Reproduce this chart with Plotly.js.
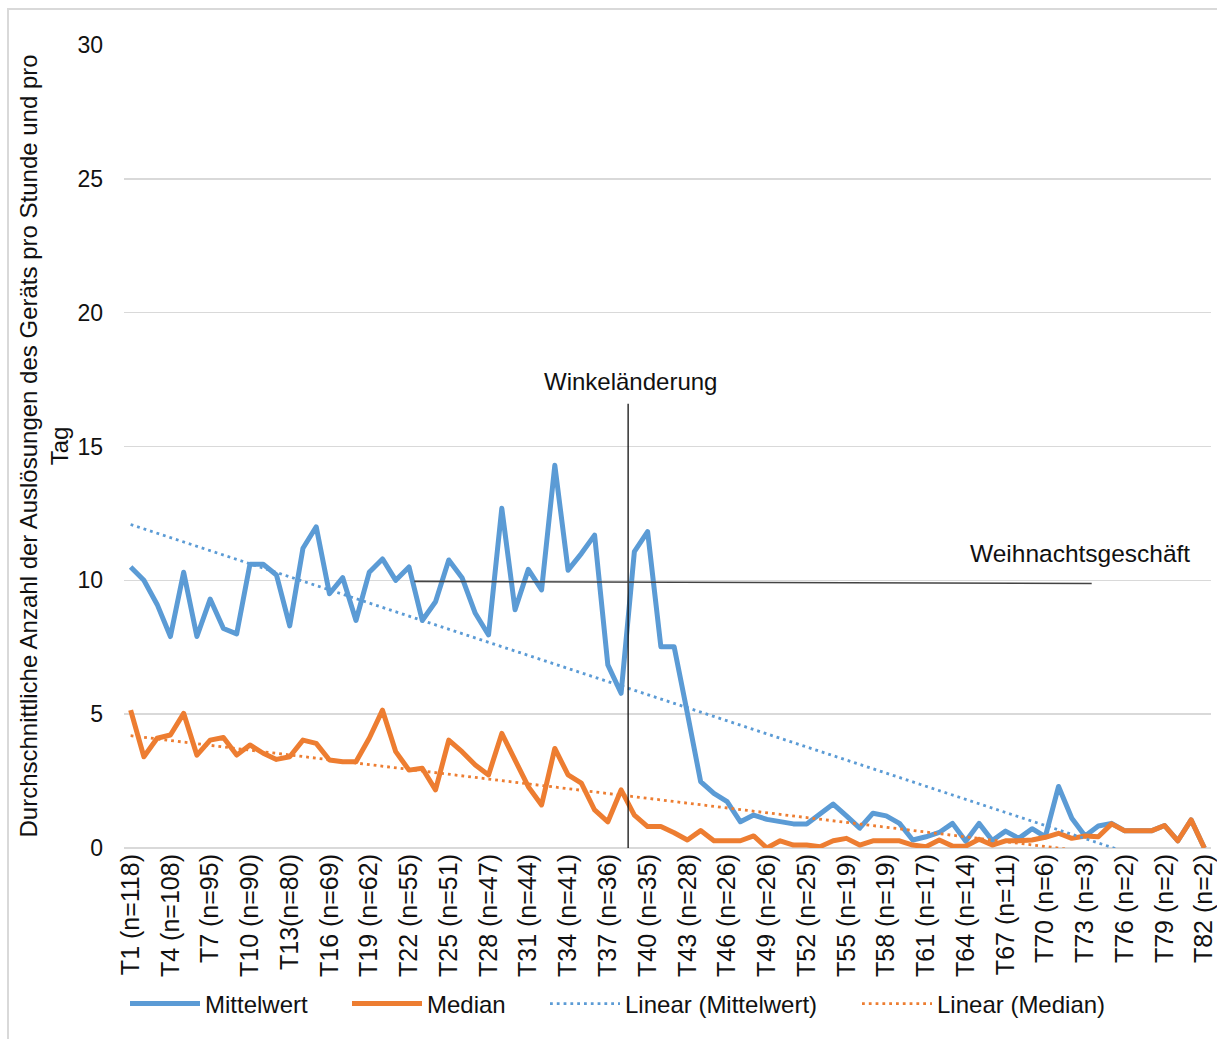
<!DOCTYPE html>
<html>
<head>
<meta charset="utf-8">
<script src="https://cdn.plot.ly/plotly-3.0.1.min.js"></script>
<style>
  html, body { margin: 0; padding: 0; background: #ffffff; overflow: hidden; }
  #wrap { position: relative; width: 1217px; height: 1039px; overflow: hidden; }
  #frame { position: absolute; left: 7px; top: 8px; width: 1300px; height: 1100px;
           border-left: 2px solid #d9d9d9; border-top: 2px solid #d9d9d9; box-sizing: border-box; }
  #chart { position: absolute; left: 0; top: 0; width: 1217px; height: 1039px; }
  #chart path.js-line { stroke-linejoin: round; }
</style>
</head>
<body>
<div id="wrap"><div id="frame"></div><div id="chart"></div></div>
<script>
// ---- data ----
const categories = ["T1","T2","T3","T4","T5","T6","T7","T8","T9","T10",
  "T11","T12","T13","T14","T15","T16","T17","T18","T19","T20",
  "T21","T22","T23","T24","T25","T26","T27","T28","T29","T30",
  "T31","T32","T33","T34","T35","T36","T37","T38","T39","T40",
  "T41","T42","T43","T44","T45","T46","T47","T48","T49","T50",
  "T51","T52","T53","T54","T55","T56","T57","T58","T59","T60",
  "T61","T62","T63","T64","T65","T66","T67","T68","T69","T70",
  "T71","T72","T73","T74","T75","T76","T77","T78","T79","T80",
  "T81","T82"];

const mittelwert = [10.5,10.0,9.1,7.9,10.3,7.9,9.3,8.2,8.0,10.6,
  10.6,10.2,8.3,11.2,12.0,9.5,10.1,8.5,10.3,10.8,
  10.0,10.5,8.5,9.2,10.76,10.1,8.77,7.96,12.69,8.9,
  10.41,9.64,14.3,10.38,11.0,11.69,6.84,5.78,11.07,11.82,
  7.52,7.52,5.03,2.48,2.04,1.73,0.98,1.23,1.07,0.98,
  0.9,0.9,1.3,1.64,1.2,0.74,1.3,1.2,0.92,0.3,
  0.42,0.58,0.92,0.25,0.92,0.28,0.63,0.36,0.72,0.42,
  2.3,1.11,0.45,0.82,0.92,0.64,0.64,0.64,0.84,0.27,
  1.05,0.0];

const median = [5.15,3.41,4.1,4.22,5.03,3.47,4.03,4.13,3.47,3.85,
  3.54,3.31,3.41,4.03,3.91,3.29,3.22,3.22,4.1,5.15,
  3.6,2.91,2.98,2.17,4.03,3.6,3.1,2.73,4.28,3.29,
  2.29,1.61,3.72,2.73,2.42,1.42,0.98,2.17,1.23,0.8,
  0.8,0.57,0.3,0.65,0.27,0.27,0.27,0.45,0.0,0.27,
  0.11,0.11,0.05,0.27,0.36,0.11,0.27,0.27,0.27,0.11,
  0.05,0.3,0.07,0.07,0.33,0.11,0.27,0.27,0.3,0.4,
  0.55,0.36,0.45,0.42,0.9,0.64,0.64,0.64,0.84,0.27,
  1.05,0.0];

const tickCategories = ["T1","T4","T7","T10","T13","T16","T19","T22","T25","T28",
  "T31","T34","T37","T40","T43","T46","T49","T52","T55","T58",
  "T61","T64","T67","T70","T73","T76","T79","T82"];
const tickLabels = ["T1 (n=118)","T4 (n=108)","T7 (n=95)","T10 (n=90)","T13(n=80)",
  "T16 (n=69)","T19 (n=62)","T22 (n=55)","T25 (n=51)","T28 (n=47)",
  "T31 (n=44)","T34 (n=41)","T37 (n=36)","T40 (n=35)","T43 (n=28)",
  "T46 (n=26)","T49 (n=26)","T52 (n=25)","T55 (n=19)","T58 (n=19)",
  "T61 (n=17)","T64 (n=14)","T67 (n=11)","T70 (n=6)","T73 (n=3)",
  "T76 (n=2)","T79 (n=2)","T82 (n=2)"];

const seriesNames = ["Mittelwert","Median","Linear (Mittelwert)","Linear (Median)"];
const yTitle = "Durchschnittliche Anzahl der Auslösungen des Geräts pro Stunde und pro<br>Tag";
const noteAngle = "Winkeländerung";
const noteXmas = "Weihnachtsgeschäft";

// least-squares linear trend (as a spreadsheet trendline does)
function linearTrend(ys) {
  const n = ys.length;
  let sx = 0, sy = 0, sxx = 0, sxy = 0;
  for (let i = 0; i < n; i++) { const x = i + 1; sx += x; sy += ys[i]; sxx += x * x; sxy += x * ys[i]; }
  const b = (n * sxy - sx * sy) / (n * sxx - sx * sx);
  const a = (sy - b * sx) / n;
  return ys.map((_, i) => a + b * (i + 1));
}

const BLUE = "#5B9BD5", ORANGE = "#ED7D31";
const FONT = "Liberation Sans, Arial, sans-serif";

const L = 124, R = 6, T = 45, B = 191;
const W = 1217, H = 1039;
const pw = W - L - R, ph = H - T - B;
const px = v => (v - L) / pw;          // pixel -> paper x
const py = v => (H - B - v) / ph;      // pixel -> paper y

const traces = [
  { x: categories, y: mittelwert, name: seriesNames[0], type: "scatter", mode: "lines",
    line: { color: BLUE, width: 5 }, legend: "legend" },
  { x: categories, y: median, name: seriesNames[1], type: "scatter", mode: "lines",
    line: { color: ORANGE, width: 5 }, legend: "legend2" },
  { x: categories, y: linearTrend(mittelwert), name: seriesNames[2], type: "scatter", mode: "lines",
    line: { color: BLUE, width: 2.8, dash: "2.8px,4px" }, legend: "legend3" },
  { x: categories, y: linearTrend(median), name: seriesNames[3], type: "scatter", mode: "lines",
    line: { color: ORANGE, width: 2.8, dash: "2.8px,4px" }, legend: "legend4" }
];

function leg(xPix) {
  return { orientation: "h", x: px(xPix), xanchor: "left", y: py(1004), yanchor: "middle",
    font: { family: FONT, size: 24, color: "#111" }, itemwidth: 70,
    bgcolor: "rgba(0,0,0,0)", borderwidth: 0, traceorder: "normal" };
}

const layout = {
  width: W, height: H,
  margin: { l: L, r: R, t: T, b: B },
  paper_bgcolor: "rgba(0,0,0,0)", plot_bgcolor: "rgba(0,0,0,0)",
  font: { family: FONT, color: "#111" },
  showlegend: true,
  legend: leg(125), legend2: leg(347), legend3: leg(545), legend4: leg(857),
  xaxis: {
    type: "category", categoryorder: "array", categoryarray: categories,
    range: [-0.5, 81.5], tickmode: "array", tickvals: tickCategories, ticktext: tickLabels,
    tickangle: -90, tickfont: { family: FONT, size: 25, color: "#111" },
    showgrid: false, showline: false, zeroline: false, ticks: "", ticklen: 0,
    automargin: false
  },
  yaxis: {
    range: [0, 30], tickvals: [0, 5, 10, 15, 20, 25, 30],
    tickfont: { family: FONT, size: 23, color: "#111" },
    showgrid: true, gridcolor: "#d9d9d9", gridwidth: 1.5,
    zeroline: true, zerolinecolor: "#d9d9d9", zerolinewidth: 1.5,
    showline: false, ticks: "", ticklabelstandoff: 20, automargin: false
  },
  shapes: [
    { type: "line", xref: "x", yref: "y", x0: 37.53, x1: 37.53, y0: -0.1, y1: 16.6,
      line: { color: "#111", width: 1.3 } },
    { type: "line", xref: "x", yref: "y", x0: 21.4, x1: 72.5, y0: 9.96, y1: 9.88,
      line: { color: "#444", width: 1.6 } }
  ],
  annotations: [
    { text: noteAngle, xref: "paper", yref: "paper", x: px(630), y: py(381),
      xanchor: "center", yanchor: "middle", showarrow: false,
      font: { family: FONT, size: 24, color: "#111" } },
    { text: noteXmas, xref: "paper", yref: "paper", x: px(1080), y: py(553),
      xanchor: "center", yanchor: "middle", showarrow: false,
      font: { family: FONT, size: 24.5, color: "#111" } },
    { text: yTitle, xref: "paper", yref: "paper", x: px(43.5), y: py(446),
      xanchor: "center", yanchor: "middle", showarrow: false, textangle: -90,
      font: { family: FONT, size: 24, color: "#111" } }
  ]
};

Plotly.newPlot("chart", traces, layout, { displayModeBar: false, staticPlot: true });
</script>
</body>
</html>
